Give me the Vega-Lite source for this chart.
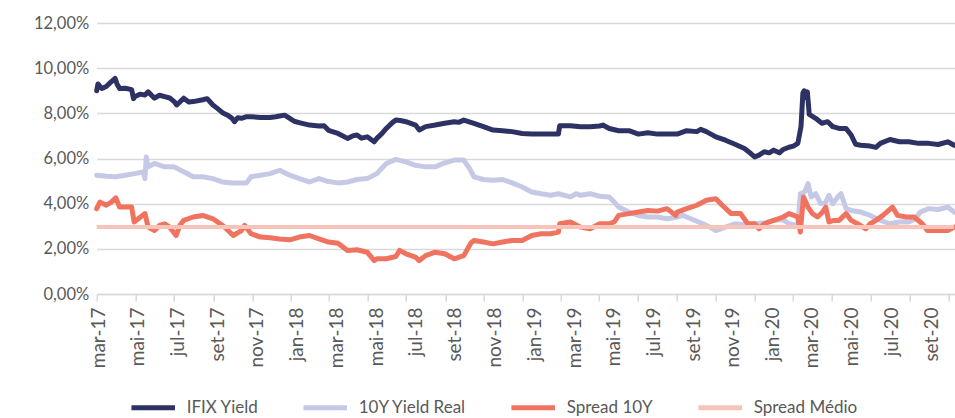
{
  "$schema": "https://vega.github.io/schema/vega-lite/v6.json",
  "width": 858.3,
  "height": 271,
  "autosize": {"type": "none"},
  "padding": {"left": 96.7, "top": 23, "right": 0, "bottom": 124},
  "background": "white",
  "config": {
    "view": {"stroke": null},
    "font": "Lato",
    "axis": {"labelFont": "Lato", "labelFontSize": 16, "labelColor": "#595959", "title": null}
  },
  "data": {
    "values": [
      {"date": "2017-03-01", "series": "IFIX Yield", "value": 9.0},
      {"date": "2017-03-03", "series": "IFIX Yield", "value": 9.3},
      {"date": "2017-03-09", "series": "IFIX Yield", "value": 9.1},
      {"date": "2017-03-16", "series": "IFIX Yield", "value": 9.19},
      {"date": "2017-03-22", "series": "IFIX Yield", "value": 9.35},
      {"date": "2017-03-30", "series": "IFIX Yield", "value": 9.55},
      {"date": "2017-04-02", "series": "IFIX Yield", "value": 9.3},
      {"date": "2017-04-06", "series": "IFIX Yield", "value": 9.1},
      {"date": "2017-04-15", "series": "IFIX Yield", "value": 9.11},
      {"date": "2017-04-25", "series": "IFIX Yield", "value": 9.05},
      {"date": "2017-04-28", "series": "IFIX Yield", "value": 8.65},
      {"date": "2017-04-30", "series": "IFIX Yield", "value": 8.74},
      {"date": "2017-05-08", "series": "IFIX Yield", "value": 8.85},
      {"date": "2017-05-16", "series": "IFIX Yield", "value": 8.81},
      {"date": "2017-05-21", "series": "IFIX Yield", "value": 8.95},
      {"date": "2017-05-31", "series": "IFIX Yield", "value": 8.67},
      {"date": "2017-06-08", "series": "IFIX Yield", "value": 8.8},
      {"date": "2017-06-16", "series": "IFIX Yield", "value": 8.74},
      {"date": "2017-06-24", "series": "IFIX Yield", "value": 8.68},
      {"date": "2017-07-01", "series": "IFIX Yield", "value": 8.52},
      {"date": "2017-07-05", "series": "IFIX Yield", "value": 8.37},
      {"date": "2017-07-16", "series": "IFIX Yield", "value": 8.67},
      {"date": "2017-07-24", "series": "IFIX Yield", "value": 8.5},
      {"date": "2017-07-31", "series": "IFIX Yield", "value": 8.52},
      {"date": "2017-08-11", "series": "IFIX Yield", "value": 8.58},
      {"date": "2017-08-15", "series": "IFIX Yield", "value": 8.6},
      {"date": "2017-08-22", "series": "IFIX Yield", "value": 8.65},
      {"date": "2017-08-31", "series": "IFIX Yield", "value": 8.37},
      {"date": "2017-09-07", "series": "IFIX Yield", "value": 8.22},
      {"date": "2017-09-15", "series": "IFIX Yield", "value": 8.03},
      {"date": "2017-09-24", "series": "IFIX Yield", "value": 7.9},
      {"date": "2017-09-30", "series": "IFIX Yield", "value": 7.78},
      {"date": "2017-10-04", "series": "IFIX Yield", "value": 7.63},
      {"date": "2017-10-09", "series": "IFIX Yield", "value": 7.8},
      {"date": "2017-10-15", "series": "IFIX Yield", "value": 7.78},
      {"date": "2017-10-23", "series": "IFIX Yield", "value": 7.85},
      {"date": "2017-10-30", "series": "IFIX Yield", "value": 7.85},
      {"date": "2017-11-14", "series": "IFIX Yield", "value": 7.82},
      {"date": "2017-11-29", "series": "IFIX Yield", "value": 7.82},
      {"date": "2017-12-08", "series": "IFIX Yield", "value": 7.85},
      {"date": "2017-12-14", "series": "IFIX Yield", "value": 7.88},
      {"date": "2017-12-22", "series": "IFIX Yield", "value": 7.92},
      {"date": "2017-12-30", "series": "IFIX Yield", "value": 7.78},
      {"date": "2018-01-06", "series": "IFIX Yield", "value": 7.65},
      {"date": "2018-01-14", "series": "IFIX Yield", "value": 7.59},
      {"date": "2018-01-30", "series": "IFIX Yield", "value": 7.48},
      {"date": "2018-02-14", "series": "IFIX Yield", "value": 7.44},
      {"date": "2018-02-22", "series": "IFIX Yield", "value": 7.45},
      {"date": "2018-03-01", "series": "IFIX Yield", "value": 7.25},
      {"date": "2018-03-16", "series": "IFIX Yield", "value": 7.11},
      {"date": "2018-03-31", "series": "IFIX Yield", "value": 6.89},
      {"date": "2018-04-08", "series": "IFIX Yield", "value": 7.0},
      {"date": "2018-04-15", "series": "IFIX Yield", "value": 7.04},
      {"date": "2018-04-22", "series": "IFIX Yield", "value": 6.9},
      {"date": "2018-05-01", "series": "IFIX Yield", "value": 6.96},
      {"date": "2018-05-12", "series": "IFIX Yield", "value": 6.74},
      {"date": "2018-05-16", "series": "IFIX Yield", "value": 6.89},
      {"date": "2018-05-24", "series": "IFIX Yield", "value": 7.1},
      {"date": "2018-05-31", "series": "IFIX Yield", "value": 7.33},
      {"date": "2018-06-10", "series": "IFIX Yield", "value": 7.6},
      {"date": "2018-06-15", "series": "IFIX Yield", "value": 7.7},
      {"date": "2018-06-22", "series": "IFIX Yield", "value": 7.68},
      {"date": "2018-07-01", "series": "IFIX Yield", "value": 7.63},
      {"date": "2018-07-16", "series": "IFIX Yield", "value": 7.48},
      {"date": "2018-07-22", "series": "IFIX Yield", "value": 7.26},
      {"date": "2018-08-01", "series": "IFIX Yield", "value": 7.41},
      {"date": "2018-08-16", "series": "IFIX Yield", "value": 7.48},
      {"date": "2018-08-31", "series": "IFIX Yield", "value": 7.56},
      {"date": "2018-09-15", "series": "IFIX Yield", "value": 7.63},
      {"date": "2018-09-22", "series": "IFIX Yield", "value": 7.6},
      {"date": "2018-09-30", "series": "IFIX Yield", "value": 7.7},
      {"date": "2018-10-16", "series": "IFIX Yield", "value": 7.56},
      {"date": "2018-10-31", "series": "IFIX Yield", "value": 7.41},
      {"date": "2018-11-15", "series": "IFIX Yield", "value": 7.26},
      {"date": "2018-11-30", "series": "IFIX Yield", "value": 7.23},
      {"date": "2018-12-15", "series": "IFIX Yield", "value": 7.19},
      {"date": "2018-12-31", "series": "IFIX Yield", "value": 7.11},
      {"date": "2019-01-15", "series": "IFIX Yield", "value": 7.08},
      {"date": "2019-01-30", "series": "IFIX Yield", "value": 7.08},
      {"date": "2019-02-14", "series": "IFIX Yield", "value": 7.08},
      {"date": "2019-02-26", "series": "IFIX Yield", "value": 7.08},
      {"date": "2019-02-28", "series": "IFIX Yield", "value": 7.45},
      {"date": "2019-03-17", "series": "IFIX Yield", "value": 7.45},
      {"date": "2019-04-02", "series": "IFIX Yield", "value": 7.41},
      {"date": "2019-04-17", "series": "IFIX Yield", "value": 7.41},
      {"date": "2019-05-02", "series": "IFIX Yield", "value": 7.44},
      {"date": "2019-05-07", "series": "IFIX Yield", "value": 7.48},
      {"date": "2019-05-17", "series": "IFIX Yield", "value": 7.33},
      {"date": "2019-06-01", "series": "IFIX Yield", "value": 7.23},
      {"date": "2019-06-17", "series": "IFIX Yield", "value": 7.23},
      {"date": "2019-07-02", "series": "IFIX Yield", "value": 7.08},
      {"date": "2019-07-17", "series": "IFIX Yield", "value": 7.14},
      {"date": "2019-08-01", "series": "IFIX Yield", "value": 7.08},
      {"date": "2019-08-16", "series": "IFIX Yield", "value": 7.08},
      {"date": "2019-09-01", "series": "IFIX Yield", "value": 7.08},
      {"date": "2019-09-16", "series": "IFIX Yield", "value": 7.23},
      {"date": "2019-10-02", "series": "IFIX Yield", "value": 7.19},
      {"date": "2019-10-08", "series": "IFIX Yield", "value": 7.29},
      {"date": "2019-10-17", "series": "IFIX Yield", "value": 7.19},
      {"date": "2019-11-01", "series": "IFIX Yield", "value": 6.96},
      {"date": "2019-11-16", "series": "IFIX Yield", "value": 6.81},
      {"date": "2019-12-01", "series": "IFIX Yield", "value": 6.63},
      {"date": "2019-12-16", "series": "IFIX Yield", "value": 6.44},
      {"date": "2019-12-26", "series": "IFIX Yield", "value": 6.22},
      {"date": "2020-01-01", "series": "IFIX Yield", "value": 6.07},
      {"date": "2020-01-08", "series": "IFIX Yield", "value": 6.15},
      {"date": "2020-01-16", "series": "IFIX Yield", "value": 6.3},
      {"date": "2020-01-24", "series": "IFIX Yield", "value": 6.25},
      {"date": "2020-01-31", "series": "IFIX Yield", "value": 6.37},
      {"date": "2020-02-09", "series": "IFIX Yield", "value": 6.25},
      {"date": "2020-02-15", "series": "IFIX Yield", "value": 6.4},
      {"date": "2020-02-24", "series": "IFIX Yield", "value": 6.5},
      {"date": "2020-03-02", "series": "IFIX Yield", "value": 6.55},
      {"date": "2020-03-09", "series": "IFIX Yield", "value": 6.67},
      {"date": "2020-03-14", "series": "IFIX Yield", "value": 7.41},
      {"date": "2020-03-17", "series": "IFIX Yield", "value": 8.9},
      {"date": "2020-03-19", "series": "IFIX Yield", "value": 9.0},
      {"date": "2020-03-22", "series": "IFIX Yield", "value": 8.7},
      {"date": "2020-03-24", "series": "IFIX Yield", "value": 8.95},
      {"date": "2020-03-27", "series": "IFIX Yield", "value": 7.95},
      {"date": "2020-04-06", "series": "IFIX Yield", "value": 7.78},
      {"date": "2020-04-16", "series": "IFIX Yield", "value": 7.56},
      {"date": "2020-04-25", "series": "IFIX Yield", "value": 7.63},
      {"date": "2020-05-03", "series": "IFIX Yield", "value": 7.41},
      {"date": "2020-05-13", "series": "IFIX Yield", "value": 7.33},
      {"date": "2020-05-24", "series": "IFIX Yield", "value": 7.33},
      {"date": "2020-06-01", "series": "IFIX Yield", "value": 7.04},
      {"date": "2020-06-08", "series": "IFIX Yield", "value": 6.63},
      {"date": "2020-06-16", "series": "IFIX Yield", "value": 6.59},
      {"date": "2020-07-01", "series": "IFIX Yield", "value": 6.55},
      {"date": "2020-07-10", "series": "IFIX Yield", "value": 6.49},
      {"date": "2020-07-17", "series": "IFIX Yield", "value": 6.67},
      {"date": "2020-08-01", "series": "IFIX Yield", "value": 6.84},
      {"date": "2020-08-16", "series": "IFIX Yield", "value": 6.74},
      {"date": "2020-08-31", "series": "IFIX Yield", "value": 6.74},
      {"date": "2020-09-15", "series": "IFIX Yield", "value": 6.67},
      {"date": "2020-10-01", "series": "IFIX Yield", "value": 6.67},
      {"date": "2020-10-16", "series": "IFIX Yield", "value": 6.62},
      {"date": "2020-10-31", "series": "IFIX Yield", "value": 6.74},
      {"date": "2020-11-10", "series": "IFIX Yield", "value": 6.59},

      {"date": "2017-03-01", "series": "10Y Yield Real", "value": 5.26},
      {"date": "2017-03-16", "series": "10Y Yield Real", "value": 5.21},
      {"date": "2017-03-31", "series": "10Y Yield Real", "value": 5.19},
      {"date": "2017-04-15", "series": "10Y Yield Real", "value": 5.26},
      {"date": "2017-04-30", "series": "10Y Yield Real", "value": 5.33},
      {"date": "2017-05-13", "series": "10Y Yield Real", "value": 5.41},
      {"date": "2017-05-16", "series": "10Y Yield Real", "value": 5.11},
      {"date": "2017-05-18", "series": "10Y Yield Real", "value": 6.07},
      {"date": "2017-05-21", "series": "10Y Yield Real", "value": 5.63},
      {"date": "2017-05-31", "series": "10Y Yield Real", "value": 5.78},
      {"date": "2017-06-16", "series": "10Y Yield Real", "value": 5.63},
      {"date": "2017-07-01", "series": "10Y Yield Real", "value": 5.63},
      {"date": "2017-07-16", "series": "10Y Yield Real", "value": 5.41},
      {"date": "2017-07-31", "series": "10Y Yield Real", "value": 5.19},
      {"date": "2017-08-15", "series": "10Y Yield Real", "value": 5.19},
      {"date": "2017-08-31", "series": "10Y Yield Real", "value": 5.11},
      {"date": "2017-09-15", "series": "10Y Yield Real", "value": 4.96},
      {"date": "2017-09-30", "series": "10Y Yield Real", "value": 4.92},
      {"date": "2017-10-15", "series": "10Y Yield Real", "value": 4.92},
      {"date": "2017-10-23", "series": "10Y Yield Real", "value": 4.92},
      {"date": "2017-10-30", "series": "10Y Yield Real", "value": 5.19},
      {"date": "2017-11-14", "series": "10Y Yield Real", "value": 5.26},
      {"date": "2017-11-29", "series": "10Y Yield Real", "value": 5.33},
      {"date": "2017-12-14", "series": "10Y Yield Real", "value": 5.48},
      {"date": "2017-12-30", "series": "10Y Yield Real", "value": 5.26},
      {"date": "2018-01-14", "series": "10Y Yield Real", "value": 5.11},
      {"date": "2018-01-30", "series": "10Y Yield Real", "value": 4.96},
      {"date": "2018-02-14", "series": "10Y Yield Real", "value": 5.11},
      {"date": "2018-03-01", "series": "10Y Yield Real", "value": 4.98},
      {"date": "2018-03-16", "series": "10Y Yield Real", "value": 4.92},
      {"date": "2018-03-31", "series": "10Y Yield Real", "value": 4.96},
      {"date": "2018-04-15", "series": "10Y Yield Real", "value": 5.07},
      {"date": "2018-05-01", "series": "10Y Yield Real", "value": 5.11},
      {"date": "2018-05-16", "series": "10Y Yield Real", "value": 5.33},
      {"date": "2018-05-31", "series": "10Y Yield Real", "value": 5.78},
      {"date": "2018-06-15", "series": "10Y Yield Real", "value": 5.96},
      {"date": "2018-07-01", "series": "10Y Yield Real", "value": 5.85},
      {"date": "2018-07-16", "series": "10Y Yield Real", "value": 5.7},
      {"date": "2018-08-01", "series": "10Y Yield Real", "value": 5.63},
      {"date": "2018-08-16", "series": "10Y Yield Real", "value": 5.63},
      {"date": "2018-08-31", "series": "10Y Yield Real", "value": 5.81},
      {"date": "2018-09-15", "series": "10Y Yield Real", "value": 5.93},
      {"date": "2018-09-30", "series": "10Y Yield Real", "value": 5.93},
      {"date": "2018-10-09", "series": "10Y Yield Real", "value": 5.56},
      {"date": "2018-10-16", "series": "10Y Yield Real", "value": 5.19},
      {"date": "2018-10-31", "series": "10Y Yield Real", "value": 5.07},
      {"date": "2018-11-15", "series": "10Y Yield Real", "value": 5.04},
      {"date": "2018-11-30", "series": "10Y Yield Real", "value": 5.07},
      {"date": "2018-12-15", "series": "10Y Yield Real", "value": 4.92},
      {"date": "2018-12-31", "series": "10Y Yield Real", "value": 4.74},
      {"date": "2019-01-15", "series": "10Y Yield Real", "value": 4.52},
      {"date": "2019-01-30", "series": "10Y Yield Real", "value": 4.44},
      {"date": "2019-02-14", "series": "10Y Yield Real", "value": 4.37},
      {"date": "2019-02-26", "series": "10Y Yield Real", "value": 4.44},
      {"date": "2019-03-17", "series": "10Y Yield Real", "value": 4.3},
      {"date": "2019-03-26", "series": "10Y Yield Real", "value": 4.44},
      {"date": "2019-04-02", "series": "10Y Yield Real", "value": 4.37},
      {"date": "2019-04-17", "series": "10Y Yield Real", "value": 4.44},
      {"date": "2019-05-02", "series": "10Y Yield Real", "value": 4.33},
      {"date": "2019-05-17", "series": "10Y Yield Real", "value": 4.3},
      {"date": "2019-05-25", "series": "10Y Yield Real", "value": 4.07},
      {"date": "2019-06-01", "series": "10Y Yield Real", "value": 3.85},
      {"date": "2019-06-17", "series": "10Y Yield Real", "value": 3.63},
      {"date": "2019-07-02", "series": "10Y Yield Real", "value": 3.48},
      {"date": "2019-07-17", "series": "10Y Yield Real", "value": 3.41},
      {"date": "2019-08-01", "series": "10Y Yield Real", "value": 3.41},
      {"date": "2019-08-16", "series": "10Y Yield Real", "value": 3.33},
      {"date": "2019-09-01", "series": "10Y Yield Real", "value": 3.41},
      {"date": "2019-09-10", "series": "10Y Yield Real", "value": 3.48},
      {"date": "2019-09-16", "series": "10Y Yield Real", "value": 3.41},
      {"date": "2019-10-02", "series": "10Y Yield Real", "value": 3.22},
      {"date": "2019-10-17", "series": "10Y Yield Real", "value": 3.04},
      {"date": "2019-11-01", "series": "10Y Yield Real", "value": 2.81},
      {"date": "2019-11-16", "series": "10Y Yield Real", "value": 2.96},
      {"date": "2019-12-01", "series": "10Y Yield Real", "value": 3.11},
      {"date": "2019-12-16", "series": "10Y Yield Real", "value": 3.07},
      {"date": "2020-01-01", "series": "10Y Yield Real", "value": 3.11},
      {"date": "2020-01-16", "series": "10Y Yield Real", "value": 3.14},
      {"date": "2020-01-31", "series": "10Y Yield Real", "value": 3.26},
      {"date": "2020-02-15", "series": "10Y Yield Real", "value": 3.29},
      {"date": "2020-02-24", "series": "10Y Yield Real", "value": 3.11},
      {"date": "2020-03-09", "series": "10Y Yield Real", "value": 3.04},
      {"date": "2020-03-13", "series": "10Y Yield Real", "value": 4.44},
      {"date": "2020-03-20", "series": "10Y Yield Real", "value": 4.52},
      {"date": "2020-03-25", "series": "10Y Yield Real", "value": 4.89},
      {"date": "2020-03-30", "series": "10Y Yield Real", "value": 4.3},
      {"date": "2020-04-06", "series": "10Y Yield Real", "value": 4.44},
      {"date": "2020-04-14", "series": "10Y Yield Real", "value": 4.0},
      {"date": "2020-04-22", "series": "10Y Yield Real", "value": 4.07},
      {"date": "2020-04-27", "series": "10Y Yield Real", "value": 4.37},
      {"date": "2020-05-03", "series": "10Y Yield Real", "value": 4.0},
      {"date": "2020-05-11", "series": "10Y Yield Real", "value": 4.3},
      {"date": "2020-05-16", "series": "10Y Yield Real", "value": 4.44},
      {"date": "2020-05-24", "series": "10Y Yield Real", "value": 3.78},
      {"date": "2020-06-01", "series": "10Y Yield Real", "value": 3.7},
      {"date": "2020-06-16", "series": "10Y Yield Real", "value": 3.63},
      {"date": "2020-07-01", "series": "10Y Yield Real", "value": 3.48},
      {"date": "2020-07-17", "series": "10Y Yield Real", "value": 3.26},
      {"date": "2020-08-01", "series": "10Y Yield Real", "value": 3.11},
      {"date": "2020-08-16", "series": "10Y Yield Real", "value": 3.19},
      {"date": "2020-08-31", "series": "10Y Yield Real", "value": 3.19},
      {"date": "2020-09-10", "series": "10Y Yield Real", "value": 3.33},
      {"date": "2020-09-18", "series": "10Y Yield Real", "value": 3.63},
      {"date": "2020-10-01", "series": "10Y Yield Real", "value": 3.78},
      {"date": "2020-10-16", "series": "10Y Yield Real", "value": 3.74},
      {"date": "2020-10-31", "series": "10Y Yield Real", "value": 3.85},
      {"date": "2020-11-10", "series": "10Y Yield Real", "value": 3.63},

      {"date": "2017-03-01", "series": "Spread 10Y", "value": 3.78},
      {"date": "2017-03-06", "series": "Spread 10Y", "value": 4.07},
      {"date": "2017-03-16", "series": "Spread 10Y", "value": 3.93},
      {"date": "2017-03-24", "series": "Spread 10Y", "value": 4.07},
      {"date": "2017-03-31", "series": "Spread 10Y", "value": 4.26},
      {"date": "2017-04-06", "series": "Spread 10Y", "value": 3.85},
      {"date": "2017-04-15", "series": "Spread 10Y", "value": 3.85},
      {"date": "2017-04-25", "series": "Spread 10Y", "value": 3.85},
      {"date": "2017-04-29", "series": "Spread 10Y", "value": 3.19},
      {"date": "2017-05-09", "series": "Spread 10Y", "value": 3.41},
      {"date": "2017-05-16", "series": "Spread 10Y", "value": 3.56},
      {"date": "2017-05-21", "series": "Spread 10Y", "value": 2.96},
      {"date": "2017-05-31", "series": "Spread 10Y", "value": 2.81},
      {"date": "2017-06-08", "series": "Spread 10Y", "value": 3.04},
      {"date": "2017-06-16", "series": "Spread 10Y", "value": 3.11},
      {"date": "2017-06-24", "series": "Spread 10Y", "value": 2.96},
      {"date": "2017-07-04", "series": "Spread 10Y", "value": 2.59},
      {"date": "2017-07-10", "series": "Spread 10Y", "value": 3.04},
      {"date": "2017-07-16", "series": "Spread 10Y", "value": 3.26},
      {"date": "2017-07-31", "series": "Spread 10Y", "value": 3.41},
      {"date": "2017-08-15", "series": "Spread 10Y", "value": 3.48},
      {"date": "2017-08-31", "series": "Spread 10Y", "value": 3.33},
      {"date": "2017-09-15", "series": "Spread 10Y", "value": 3.04},
      {"date": "2017-09-21", "series": "Spread 10Y", "value": 2.89},
      {"date": "2017-10-02", "series": "Spread 10Y", "value": 2.59},
      {"date": "2017-10-15", "series": "Spread 10Y", "value": 2.81},
      {"date": "2017-10-20", "series": "Spread 10Y", "value": 3.04},
      {"date": "2017-10-30", "series": "Spread 10Y", "value": 2.67},
      {"date": "2017-11-14", "series": "Spread 10Y", "value": 2.52},
      {"date": "2017-11-29", "series": "Spread 10Y", "value": 2.49},
      {"date": "2017-12-14", "series": "Spread 10Y", "value": 2.44},
      {"date": "2017-12-30", "series": "Spread 10Y", "value": 2.4},
      {"date": "2018-01-14", "series": "Spread 10Y", "value": 2.52},
      {"date": "2018-01-30", "series": "Spread 10Y", "value": 2.59},
      {"date": "2018-02-14", "series": "Spread 10Y", "value": 2.44},
      {"date": "2018-03-01", "series": "Spread 10Y", "value": 2.3},
      {"date": "2018-03-16", "series": "Spread 10Y", "value": 2.25},
      {"date": "2018-03-31", "series": "Spread 10Y", "value": 1.93},
      {"date": "2018-04-15", "series": "Spread 10Y", "value": 1.96},
      {"date": "2018-05-01", "series": "Spread 10Y", "value": 1.85},
      {"date": "2018-05-12", "series": "Spread 10Y", "value": 1.48},
      {"date": "2018-05-16", "series": "Spread 10Y", "value": 1.56},
      {"date": "2018-05-31", "series": "Spread 10Y", "value": 1.56},
      {"date": "2018-06-15", "series": "Spread 10Y", "value": 1.66},
      {"date": "2018-06-21", "series": "Spread 10Y", "value": 1.93},
      {"date": "2018-07-01", "series": "Spread 10Y", "value": 1.78},
      {"date": "2018-07-16", "series": "Spread 10Y", "value": 1.63},
      {"date": "2018-07-22", "series": "Spread 10Y", "value": 1.48},
      {"date": "2018-08-01", "series": "Spread 10Y", "value": 1.7},
      {"date": "2018-08-16", "series": "Spread 10Y", "value": 1.85},
      {"date": "2018-08-31", "series": "Spread 10Y", "value": 1.78},
      {"date": "2018-09-15", "series": "Spread 10Y", "value": 1.56},
      {"date": "2018-09-30", "series": "Spread 10Y", "value": 1.7},
      {"date": "2018-10-11", "series": "Spread 10Y", "value": 2.25},
      {"date": "2018-10-16", "series": "Spread 10Y", "value": 2.37},
      {"date": "2018-10-31", "series": "Spread 10Y", "value": 2.3},
      {"date": "2018-11-15", "series": "Spread 10Y", "value": 2.22},
      {"date": "2018-11-30", "series": "Spread 10Y", "value": 2.3},
      {"date": "2018-12-15", "series": "Spread 10Y", "value": 2.37},
      {"date": "2018-12-31", "series": "Spread 10Y", "value": 2.37},
      {"date": "2019-01-15", "series": "Spread 10Y", "value": 2.59},
      {"date": "2019-01-30", "series": "Spread 10Y", "value": 2.67},
      {"date": "2019-02-14", "series": "Spread 10Y", "value": 2.67},
      {"date": "2019-02-26", "series": "Spread 10Y", "value": 2.74},
      {"date": "2019-02-28", "series": "Spread 10Y", "value": 3.11},
      {"date": "2019-03-17", "series": "Spread 10Y", "value": 3.19},
      {"date": "2019-04-02", "series": "Spread 10Y", "value": 2.96},
      {"date": "2019-04-17", "series": "Spread 10Y", "value": 2.89},
      {"date": "2019-05-02", "series": "Spread 10Y", "value": 3.11},
      {"date": "2019-05-17", "series": "Spread 10Y", "value": 3.11},
      {"date": "2019-05-25", "series": "Spread 10Y", "value": 3.19},
      {"date": "2019-06-01", "series": "Spread 10Y", "value": 3.48},
      {"date": "2019-06-17", "series": "Spread 10Y", "value": 3.56},
      {"date": "2019-07-02", "series": "Spread 10Y", "value": 3.63},
      {"date": "2019-07-17", "series": "Spread 10Y", "value": 3.7},
      {"date": "2019-08-01", "series": "Spread 10Y", "value": 3.67},
      {"date": "2019-08-16", "series": "Spread 10Y", "value": 3.78},
      {"date": "2019-08-30", "series": "Spread 10Y", "value": 3.48},
      {"date": "2019-09-01", "series": "Spread 10Y", "value": 3.63},
      {"date": "2019-09-16", "series": "Spread 10Y", "value": 3.78},
      {"date": "2019-10-02", "series": "Spread 10Y", "value": 3.93},
      {"date": "2019-10-17", "series": "Spread 10Y", "value": 4.15},
      {"date": "2019-11-01", "series": "Spread 10Y", "value": 4.22},
      {"date": "2019-11-11", "series": "Spread 10Y", "value": 3.93},
      {"date": "2019-11-25", "series": "Spread 10Y", "value": 3.56},
      {"date": "2019-12-10", "series": "Spread 10Y", "value": 3.56},
      {"date": "2019-12-21", "series": "Spread 10Y", "value": 3.11},
      {"date": "2020-01-01", "series": "Spread 10Y", "value": 3.11},
      {"date": "2020-01-08", "series": "Spread 10Y", "value": 2.89},
      {"date": "2020-01-16", "series": "Spread 10Y", "value": 3.11},
      {"date": "2020-01-31", "series": "Spread 10Y", "value": 3.26},
      {"date": "2020-02-15", "series": "Spread 10Y", "value": 3.41},
      {"date": "2020-02-24", "series": "Spread 10Y", "value": 3.56},
      {"date": "2020-03-03", "series": "Spread 10Y", "value": 3.48},
      {"date": "2020-03-09", "series": "Spread 10Y", "value": 3.41},
      {"date": "2020-03-13", "series": "Spread 10Y", "value": 2.74},
      {"date": "2020-03-15", "series": "Spread 10Y", "value": 3.41},
      {"date": "2020-03-18", "series": "Spread 10Y", "value": 4.3},
      {"date": "2020-03-25", "series": "Spread 10Y", "value": 3.85},
      {"date": "2020-04-01", "series": "Spread 10Y", "value": 3.56},
      {"date": "2020-04-09", "series": "Spread 10Y", "value": 3.41},
      {"date": "2020-04-17", "series": "Spread 10Y", "value": 3.63},
      {"date": "2020-04-22", "series": "Spread 10Y", "value": 3.85},
      {"date": "2020-04-27", "series": "Spread 10Y", "value": 3.19},
      {"date": "2020-05-05", "series": "Spread 10Y", "value": 3.26},
      {"date": "2020-05-13", "series": "Spread 10Y", "value": 3.26},
      {"date": "2020-05-24", "series": "Spread 10Y", "value": 3.56},
      {"date": "2020-06-01", "series": "Spread 10Y", "value": 3.26},
      {"date": "2020-06-11", "series": "Spread 10Y", "value": 3.11},
      {"date": "2020-06-24", "series": "Spread 10Y", "value": 2.89},
      {"date": "2020-07-01", "series": "Spread 10Y", "value": 3.11},
      {"date": "2020-07-10", "series": "Spread 10Y", "value": 3.26},
      {"date": "2020-07-21", "series": "Spread 10Y", "value": 3.48},
      {"date": "2020-08-05", "series": "Spread 10Y", "value": 3.85},
      {"date": "2020-08-13", "series": "Spread 10Y", "value": 3.48},
      {"date": "2020-08-26", "series": "Spread 10Y", "value": 3.41},
      {"date": "2020-09-08", "series": "Spread 10Y", "value": 3.41},
      {"date": "2020-09-21", "series": "Spread 10Y", "value": 3.11},
      {"date": "2020-09-29", "series": "Spread 10Y", "value": 2.81},
      {"date": "2020-10-16", "series": "Spread 10Y", "value": 2.81},
      {"date": "2020-10-31", "series": "Spread 10Y", "value": 2.81},
      {"date": "2020-11-10", "series": "Spread 10Y", "value": 2.96},

      {"date": "2017-03-01", "series": "Spread Médio", "value": 2.97},
      {"date": "2020-11-10", "series": "Spread Médio", "value": 2.97}
    ]
  },
  "encoding": {
    "y": {
      "field": "value",
      "type": "quantitative",
      "scale": {"domain": [0, 12], "nice": false, "zero": true},
      "axis": {
        "values": [0, 2, 4, 6, 8, 10, 12],
        "labelExpr": "replace(format(datum.value, '.2f'), '.', ',') + '%'",
        "domain": false,
        "ticks": false,
        "grid": true,
        "gridColor": "#D9D9D9",
        "gridWidth": 1.5,
        "labelPadding": 8,
        "labelFontSize": 16.5
      }
    },
    "color": {
      "field": "series",
      "type": "nominal",
      "scale": {
        "domain": ["IFIX Yield", "10Y Yield Real", "Spread 10Y", "Spread Médio"],
        "range": ["#2E3164", "#C6C9E6", "#F07360", "#F8C4BA"]
      },
      "legend": {
        "orient": "none",
        "legendX": 32,
        "legendY": 360,
        "direction": "horizontal",
        "columns": 4,
        "title": null,
        "symbolType": "stroke",
        "symbolStrokeWidth": 5,
        "symbolSize": 1900,
        "labelFont": "Lato",
        "labelFontSize": 17,
        "labelColor": "#595959",
        "labelOffset": 9,
        "columnPadding": 34
      }
    }
  },
  "layer": [
    {
      "transform": [{"filter": "datum.series !== 'Spread Médio'"}],
      "mark": {"type": "line", "strokeWidth": 5, "strokeJoin": "round", "strokeCap": "round"},
      "encoding": {
        "x": {
          "field": "date",
          "type": "temporal",
          "scale": {"type": "utc", "domain": [{"year": 2017, "month": 3, "date": 1, "utc": true}, {"year": 2020, "month": 11, "date": 11, "hours": 12, "utc": true}]},
          "axis": {
            "orient": "bottom",
            "domain": false,
            "ticks": false,
            "tickSize": 0,
            "grid": false,
            "labelAngle": 270,
            "labelAlign": "right",
            "labelBaseline": "middle",
            "labelPadding": 13,
            "labelFontSize": 19,
            "labelOverlap": false,
            "labelFlush": false,
            "values": [
              {"year": 2017, "month": 3, "date": 4, "utc": true},
              {"year": 2017, "month": 5, "date": 5, "utc": true},
              {"year": 2017, "month": 7, "date": 6, "utc": true},
              {"year": 2017, "month": 9, "date": 7, "utc": true},
              {"year": 2017, "month": 11, "date": 8, "utc": true},
              {"year": 2018, "month": 1, "date": 10, "utc": true},
              {"year": 2018, "month": 3, "date": 13, "utc": true},
              {"year": 2018, "month": 5, "date": 15, "utc": true},
              {"year": 2018, "month": 7, "date": 16, "utc": true},
              {"year": 2018, "month": 9, "date": 16, "utc": true},
              {"year": 2018, "month": 11, "date": 18, "utc": true},
              {"year": 2019, "month": 1, "date": 19, "utc": true},
              {"year": 2019, "month": 3, "date": 23, "utc": true},
              {"year": 2019, "month": 5, "date": 24, "utc": true},
              {"year": 2019, "month": 7, "date": 26, "utc": true},
              {"year": 2019, "month": 9, "date": 26, "utc": true},
              {"year": 2019, "month": 11, "date": 27, "utc": true},
              {"year": 2020, "month": 1, "date": 29, "utc": true},
              {"year": 2020, "month": 3, "date": 31, "utc": true},
              {"year": 2020, "month": 6, "date": 2, "utc": true},
              {"year": 2020, "month": 8, "date": 3, "utc": true},
              {"year": 2020, "month": 10, "date": 5, "utc": true}
            ],
            "labelExpr": "['mar','mai','jul','set','nov','jan'][round((datum.value - 1488585600000) / 5393952000) % 6] + '-' + (17 + floor((round((datum.value - 1488585600000) / 5393952000) + 1) / 6))"
          }
        }
      }
    },
    {
      "transform": [{"filter": "datum.series === 'Spread Médio'"}],
      "mark": {"type": "line", "strokeWidth": 4},
      "encoding": {
        "x": {
          "field": "date",
          "type": "temporal",
          "scale": {"type": "utc", "domain": [{"year": 2017, "month": 3, "date": 1, "utc": true}, {"year": 2020, "month": 11, "date": 11, "hours": 12, "utc": true}]},
          "axis": {
            "orient": "bottom",
            "domain": true,
            "domainColor": "#D9D9D9",
            "domainWidth": 1.5,
            "ticks": true,
            "tickColor": "#D9D9D9",
            "tickWidth": 1.5,
            "tickSize": 7,
            "grid": false,
            "labels": false,
            "values": [
              {"year": 2017, "month": 3, "date": 1, "utc": true},
              {"year": 2017, "month": 5, "date": 1, "utc": true},
              {"year": 2017, "month": 7, "date": 1, "utc": true},
              {"year": 2017, "month": 9, "date": 1, "utc": true},
              {"year": 2017, "month": 11, "date": 1, "utc": true},
              {"year": 2018, "month": 1, "date": 1, "utc": true},
              {"year": 2018, "month": 3, "date": 1, "utc": true},
              {"year": 2018, "month": 5, "date": 1, "utc": true},
              {"year": 2018, "month": 7, "date": 1, "utc": true},
              {"year": 2018, "month": 9, "date": 1, "utc": true},
              {"year": 2018, "month": 11, "date": 1, "utc": true},
              {"year": 2019, "month": 1, "date": 1, "utc": true},
              {"year": 2019, "month": 3, "date": 1, "utc": true},
              {"year": 2019, "month": 5, "date": 1, "utc": true},
              {"year": 2019, "month": 7, "date": 1, "utc": true},
              {"year": 2019, "month": 9, "date": 1, "utc": true},
              {"year": 2019, "month": 11, "date": 1, "utc": true},
              {"year": 2020, "month": 1, "date": 1, "utc": true},
              {"year": 2020, "month": 3, "date": 1, "utc": true},
              {"year": 2020, "month": 5, "date": 1, "utc": true},
              {"year": 2020, "month": 7, "date": 1, "utc": true},
              {"year": 2020, "month": 9, "date": 1, "utc": true},
              {"year": 2020, "month": 11, "date": 1, "utc": true}
            ]
          }
        }
      }
    }
  ],
  "resolve": {"axis": {"x": "independent"}}
}
